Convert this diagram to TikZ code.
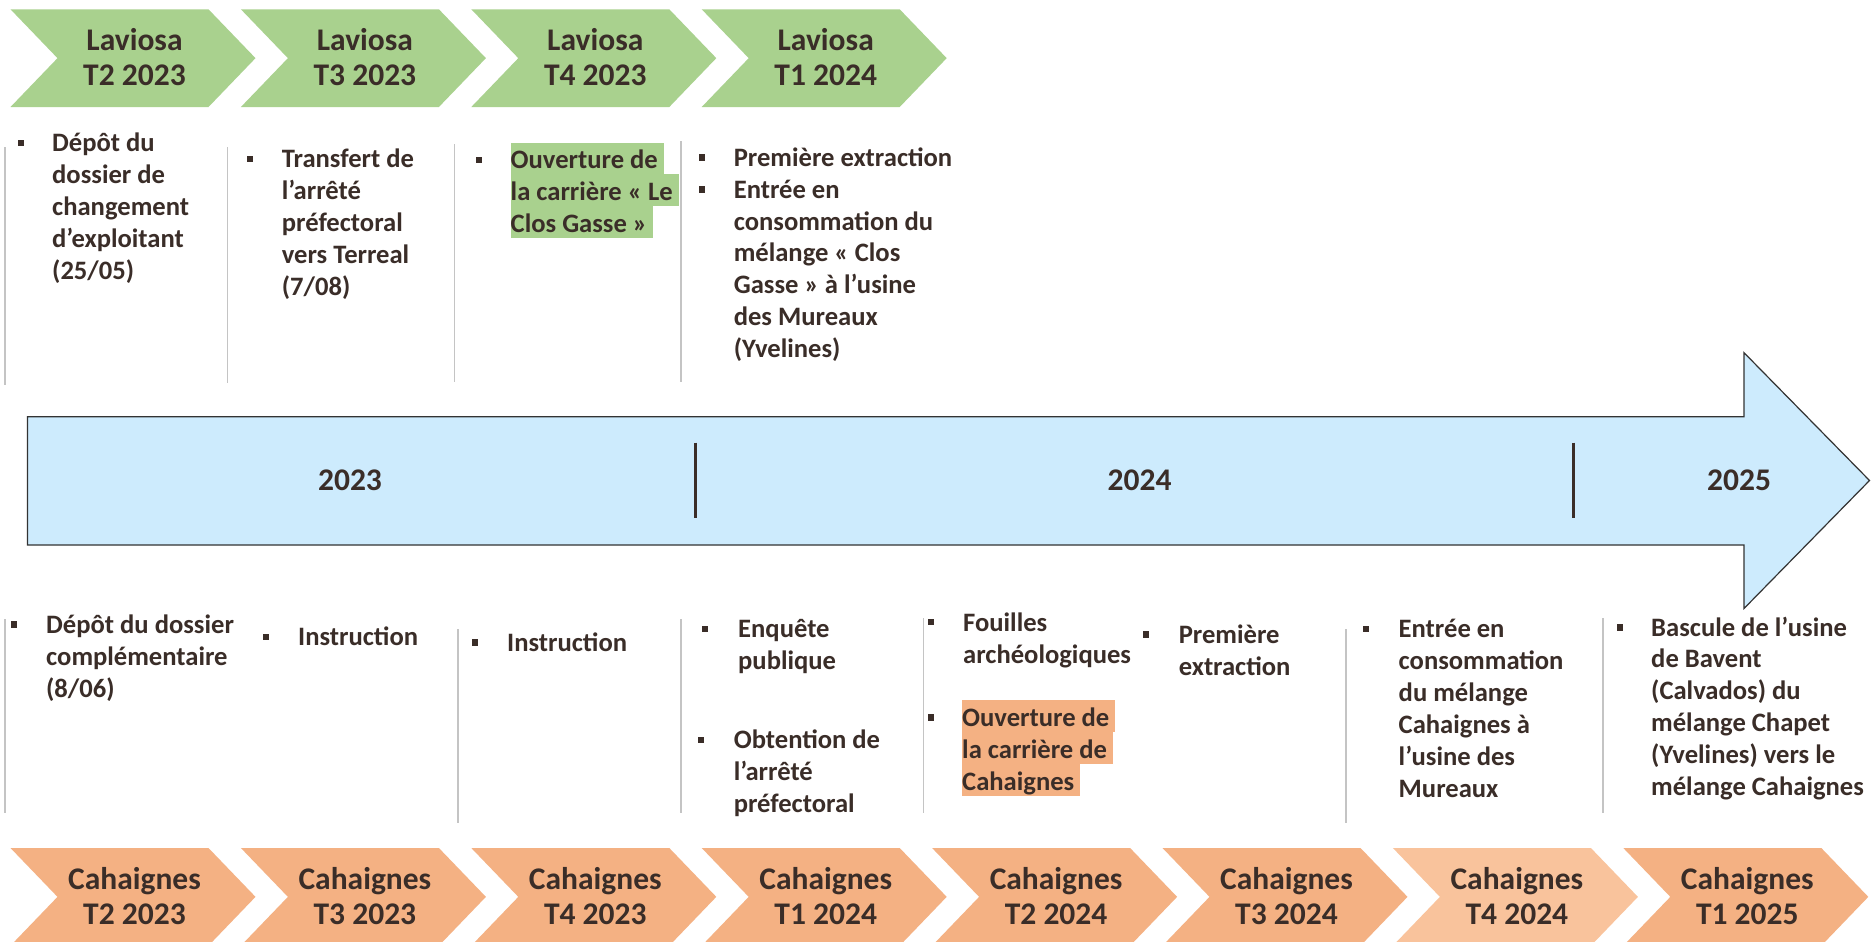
\documentclass[tikz,border=0pt]{standalone}
\usepackage{fontspec}
\setmainfont{Carlito}
\definecolor{txt}{HTML}{3A2D28}
\definecolor{grn}{HTML}{A9D18E}
\definecolor{org}{HTML}{F4B183}
\definecolor{orgl}{HTML}{F9C39C}
\definecolor{blu}{HTML}{CDEBFD}
\definecolor{sepc}{HTML}{C4C4C4}
\newcommand{\mystrut}{\rule[-5.9pt]{0pt}{31.9pt}}
\newcommand{\chstrut}{\rule[-9pt]{0pt}{35pt}}
\newcommand{\hlg}[1]{{\setlength{\fboxsep}{0pt}\colorbox{grn}{\mystrut#1\hspace{6pt}}}}
\newcommand{\hlo}[1]{{\setlength{\fboxsep}{0pt}\colorbox{org}{\mystrut#1\hspace{6pt}}}}
\newcommand{\chev}[6]{%
  \fill[#4] (#2,#3) -- ++(198,0) -- ++(47,48.85) -- ++(-47,48.85) -- ++(-198,0) -- ++(47,-48.85) -- cycle;
  \node[chevtxt] (#1) at (#2+124,#3+#5) {\chstrut#6};
}
\tikzset{
  bul/.style={rectangle, fill=txt, inner sep=0pt, minimum width=6pt, minimum height=6.5pt},
  bodytxt/.style={font=\fontsize{26.6}{31.9}\selectfont\bfseries, text=txt, inner sep=0pt, anchor=north west, align=left},
  chevtxt/.style={font=\fontsize{31.5}{35}\selectfont\bfseries, text=txt, inner sep=0pt, anchor=north, align=center},
  yr/.style={font=\fontsize{31.5}{35}\selectfont\bfseries, text=txt, inner sep=0pt},
  sepline/.style={draw=sepc, line width=1.5pt},
  divline/.style={draw=txt, line width=3pt}
}
\begin{document}
\begin{tikzpicture}[x=1pt,y=-1pt]
\useasboundingbox (0,0) rectangle (1871,942);
\clip (0,0) rectangle (1871,942);
\fill[white] (0,0) rectangle (1871,942);

% top chevrons
\chev{lt1}{10.5}{9.3}{grn}{14.7}{Laviosa\\T2 2023}
\chev{lt2}{240.9}{9.3}{grn}{14.7}{Laviosa\\T3 2023}
\chev{lt3}{471.3}{9.3}{grn}{14.7}{Laviosa\\T4 2023}
\chev{lt4}{701.7}{9.3}{grn}{14.7}{Laviosa\\T1 2024}

% bottom chevrons
\chev{cb1}{10.5}{848}{org}{15.5}{Cahaignes\\T2 2023}
\chev{cb2}{240.9}{848}{org}{15.5}{Cahaignes\\T3 2023}
\chev{cb3}{471.3}{848}{org}{15.5}{Cahaignes\\T4 2023}
\chev{cb4}{701.7}{848}{org}{15.5}{Cahaignes\\T1 2024}
\chev{cb5}{932.1}{848}{org}{15.5}{Cahaignes\\T2 2024}
\chev{cb6}{1162.5}{848}{org}{15.5}{Cahaignes\\T3 2024}
\chev{cb7}{1392.9}{848}{orgl}{15.5}{Cahaignes\\T4 2024}
\chev{cb8}{1623.3}{848}{org}{15.5}{Cahaignes\\T1 2025}

% big timeline arrow
\draw[fill=blu, draw=black!80, line width=1.2pt, line join=miter]
  (27.5,416.7) -- (1744,416.7) -- (1744,352.7) -- (1869.5,480.5) -- (1744,608.5) -- (1744,545) -- (27.5,545) -- cycle;
\draw[divline] (695,442.6) -- (695,518);
\draw[divline] (1573,442.6) -- (1573,518);
\node[yr] (y2023) at (350,480) {2023};
\node[yr] (y2024) at (1139.6,480) {2024};
\node[yr] (y2025) at (1739,480) {2025};

% top separators
\draw[sepline] (5,147) -- (5,385);
\draw[sepline] (227.5,147) -- (227.5,383);
\draw[sepline] (454.5,144) -- (454.5,382);
\draw[sepline] (681,141) -- (681,382);

% bottom separators
\draw[sepline] (5,619) -- (5,813);
\draw[sepline] (458,629) -- (458,823);
\draw[sepline] (681,619) -- (681,813);
\draw[sepline] (923.5,618) -- (923.5,813);
\draw[sepline] (1346,629) -- (1346,823);
\draw[sepline] (1603,618) -- (1603,813);

% top texts
\node[bul] (tb1) at (20.8,143.2) {};
\node[bodytxt] (tt1) at (52,125.7) {\mystrut Dépôt du\\dossier de\\changement\\d’exploitant\\(25/05)};
\node[bul] (tb2) at (250,159) {};
\node[bodytxt] (tt2) at (281.7,141.5) {\mystrut Transfert de\\l’arrêté\\préfectoral\\vers Terreal\\(7/08)};
\node[bul] (tb3) at (479.3,159.8) {};
\node[bodytxt] (tt3) at (510.5,142.3) {\hlg{Ouverture de}\\\hlg{la carrière « Le}\\\hlg{Clos Gasse »}};
\node[bul] (tb4) at (702.4,157.5) {};
\node[bul] (tb4b) at (702.4,189.4) {};
\node[bodytxt] (tt4) at (733.6,140) {\mystrut Première extraction\\Entrée en\\consommation du\\mélange « Clos\\Gasse » à l’usine\\des Mureaux\\(Yvelines)};

% bottom texts
\node[bul] (bb1) at (13.5,624.5) {};
\node[bodytxt] (bt1) at (46,607) {\mystrut Dépôt du dossier\\complémentaire\\(8/06)};
\node[bul] (bb2) at (266,636.9) {};
\node[bodytxt] (bt2) at (298,619.4) {\mystrut Instruction};
\node[bul] (bb3) at (474.6,642.3) {};
\node[bodytxt] (bt3) at (507,624.8) {\mystrut Instruction};
\node[bul] (bb4a) at (705.4,629) {};
\node[bodytxt] (bt4a) at (738,611.5) {\mystrut Enquête\\publique};
\node[bul] (bb4b) at (701,740) {};
\node[bodytxt] (bt4b) at (733.6,722.5) {\mystrut Obtention de\\l’arrêté\\préfectoral};
\node[bul] (bb5a) at (931,622) {};
\node[bodytxt] (bt5a) at (963,605) {\mystrut Fouilles\\archéologiques};
\node[bul] (bb5b) at (931,717.5) {};
\node[bodytxt] (bt5b) at (962,700) {\hlo{Ouverture de}\\\hlo{la carrière de}\\\hlo{Cahaignes}};
\node[bul] (bb6) at (1146.4,634.5) {};
\node[bodytxt] (bt6) at (1178.6,617) {\mystrut Première\\extraction};
\node[bul] (bb7) at (1366,629.2) {};
\node[bodytxt] (bt7) at (1398.5,611.7) {\mystrut Entrée en\\consommation\\du mélange\\Cahaignes à\\l’usine des\\Mureaux};
\node[bul] (bb8) at (1619.5,627.3) {};
\node[bodytxt] (bt8) at (1651,609.8) {\mystrut Bascule de l’usine\\de Bavent\\(Calvados) du\\mélange Chapet\\(Yvelines) vers le\\mélange Cahaignes};
\end{tikzpicture}
\end{document}
